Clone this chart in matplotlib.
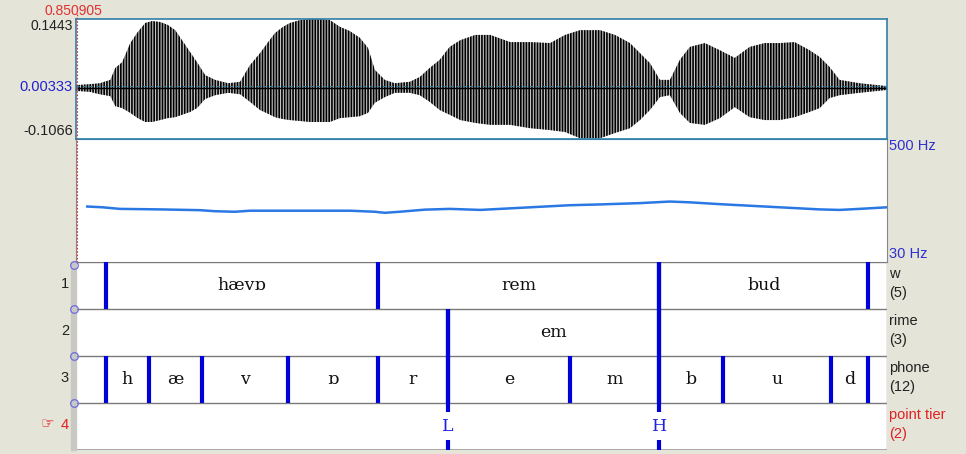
import matplotlib
matplotlib.use("Agg")
import matplotlib.pyplot as plt

# --- data ---
t_start = 0.851
t_end = 2.151
cursor_label = "0.850905"

# waveform envelope (seconds, upper / lower amplitude)
wave_t = [0.851, 0.873, 0.889, 0.906, 0.914, 0.925, 0.938, 0.950, 0.962, 0.973,
          0.986, 0.998, 1.010, 1.021, 1.034, 1.045, 1.058, 1.074, 1.095, 1.114,
          1.130, 1.146, 1.159, 1.170, 1.183, 1.194, 1.210, 1.226, 1.242, 1.258,
          1.274, 1.290, 1.306, 1.319, 1.330, 1.346, 1.362, 1.386, 1.402, 1.418,
          1.434, 1.450, 1.467, 1.491, 1.515, 1.547, 1.579, 1.611, 1.635, 1.659,
          1.691, 1.715, 1.739, 1.755, 1.771, 1.787, 1.803, 1.819, 1.835, 1.859,
          1.883, 1.907, 1.931, 1.955, 1.979, 2.003, 2.027, 2.043, 2.059, 2.075,
          2.107, 2.151]
wave_hi = [0.006, 0.008, 0.010, 0.017, 0.042, 0.054, 0.094, 0.117, 0.136, 0.140,
           0.138, 0.132, 0.121, 0.100, 0.075, 0.054, 0.027, 0.017, 0.010, 0.013,
           0.048, 0.073, 0.096, 0.115, 0.128, 0.136, 0.142, 0.144, 0.144, 0.142,
           0.128, 0.119, 0.105, 0.084, 0.038, 0.017, 0.010, 0.013, 0.023, 0.042,
           0.059, 0.086, 0.100, 0.111, 0.111, 0.096, 0.096, 0.094, 0.111, 0.121,
           0.121, 0.111, 0.094, 0.073, 0.052, 0.017, 0.017, 0.059, 0.086, 0.094,
           0.079, 0.063, 0.086, 0.094, 0.094, 0.096, 0.079, 0.065, 0.044, 0.017,
           0.010, 0.004]
wave_lo = [-0.006, -0.008, -0.013, -0.017, -0.038, -0.042, -0.052, -0.063, -0.071, -0.071,
           -0.067, -0.063, -0.061, -0.056, -0.050, -0.042, -0.023, -0.015, -0.010, -0.013,
           -0.029, -0.046, -0.054, -0.061, -0.065, -0.067, -0.069, -0.071, -0.071, -0.071,
           -0.063, -0.061, -0.059, -0.052, -0.031, -0.019, -0.010, -0.010, -0.015, -0.029,
           -0.046, -0.056, -0.067, -0.073, -0.077, -0.077, -0.084, -0.088, -0.092, -0.105,
           -0.105, -0.094, -0.084, -0.067, -0.046, -0.019, -0.015, -0.052, -0.073, -0.077,
           -0.063, -0.040, -0.061, -0.067, -0.067, -0.061, -0.050, -0.042, -0.021, -0.015,
           -0.010, -0.004]
wave_top, wave_mid, wave_bottom = 0.1443, 0.00333, -0.1066

# pitch contour (Hz)
pitch_t = [0.869, 0.894, 0.921, 0.986, 1.050, 1.074, 1.106, 1.130, 1.162, 1.290,
           1.330, 1.346, 1.370, 1.410, 1.450, 1.499, 1.547, 1.595, 1.643, 1.691,
           1.755, 1.803, 1.835, 1.883, 1.931, 1.995, 2.043, 2.075, 2.107, 2.151]
pitch_hz = [242, 239, 233, 231, 228, 224, 222, 226, 226, 226,
            222, 218, 222, 230, 233, 229, 235, 241, 247, 250,
            255, 261, 258, 251, 245, 237, 231, 229, 233, 239]
pitch_min, pitch_max = 30, 500

# interval tiers: boundaries and labels (labels sit between consecutive boundaries)
w_bounds = [0.899, 1.335, 1.786, 2.121]
w_labels = ["hævɒ", "rem", "bud"]
rime_bounds = [1.447, 1.786]
rime_labels = ["em"]
phone_bounds = [0.899, 0.968, 1.053, 1.191, 1.335, 1.447, 1.643, 1.786, 1.888,
                2.061, 2.121]
phone_labels = ["h", "æ", "v", "ɒ", "r", "e", "m", "b", "u", "d"]
point_times = [1.447, 1.786]
point_labels = ["L", "H"]

tier_names = ["w", "rime", "phone", "point tier"]
tier_counts = ["(5)", "(3)", "(12)", "(2)"]

# --- figure ---
W, H = 966, 454
bg = "#e4e4d8"
blue = "#0000d8"
fig = plt.figure(figsize=(W / 100, H / 100), dpi=100, facecolor=bg)


def box(x0, y0, x1, y1):
    return [x0 / W, 1 - y1 / H, (x1 - x0) / W, (y1 - y0) / H]


def fx(x):
    return x / W


def fy(y):
    return 1 - y / H


sans = "Liberation Sans"
serif = ["DejaVu Serif"]
small = 10.5

# waveform
plt.rcParams["hatch.linewidth"] = 1.2
ax_w = fig.add_axes(box(76, 19, 887, 139))
ax_w.fill_between(wave_t, wave_lo, wave_hi, facecolor="#c4c4c4",
                  edgecolor="black", hatch="|" * 6, linewidth=0)
ax_w.plot(wave_t, [0] * len(wave_t), color="black", lw=1.0)
ax_w.axhline(wave_mid, color="#2a7fa8", lw=0.8, ls=(0, (3, 3)))
ax_w.set_xlim(t_start, t_end)
ax_w.set_ylim(wave_bottom, wave_top)
ax_w.set_xticks([])
ax_w.set_yticks([])
for s in ax_w.spines.values():
    s.set_color("#2f7fa8")
    s.set_linewidth(1.2)

# pitch
ax_p = fig.add_axes(box(76, 139, 887, 262))
ax_p.plot(pitch_t, pitch_hz, color="#2a78e4", lw=1.8)
ax_p.set_xlim(t_start, t_end)
ax_p.set_ylim(pitch_min, pitch_max)
ax_p.set_xticks([])
ax_p.set_yticks([])
for s in ax_p.spines.values():
    s.set_color("#888888")
    s.set_linewidth(0.8)
ax_p.spines["top"].set_color("#2f7fa8")

# tiers
ax_t = fig.add_axes(box(76, 262, 887, 450))
ax_t.set_xlim(t_start, t_end)
ax_t.set_ylim(4, 0)
ax_t.set_xticks([])
ax_t.set_yticks([])
for s in ax_t.spines.values():
    s.set_visible(False)
for yy in [0, 1, 2, 3]:
    ax_t.axhline(yy, color="#7a7a7a", lw=1.0)
ax_t.axhline(4, color="#a0a0a0", lw=2.0)
ax_t.axvline(t_end, color="#9a9a9a", lw=1.0)

tiers = [(w_bounds, w_labels, 0), (rime_bounds, rime_labels, 1),
         (phone_bounds, phone_labels, 2)]
for bounds, labels, row in tiers:
    ax_t.vlines(bounds, row, row + 1, color=blue, lw=3)
    for i, lab in enumerate(labels):
        mid = (bounds[i] + bounds[i + 1]) / 2
        ax_t.text(mid, row + 0.5, lab, ha="center", va="center",
                  fontsize=12.5, family=serif, color="#111111")

for tp, lab in zip(point_times, point_labels):
    top = 1 if lab == "L" else 0
    ax_t.vlines(tp, top, 3.2, color=blue, lw=3)
    ax_t.vlines(tp, 3.78, 4.0, color=blue, lw=3)
    ax_t.text(tp, 3.5, lab, ha="center", va="center", fontsize=12.5,
              family=serif, color="#2020e0")

# shadow column left of tiers
fig.patches.append(plt.Rectangle((fx(71), fy(450)), fx(5), (450 - 262) / H,
                                 transform=fig.transFigure, color="#c9c9c3", zorder=0))

# cursor line
fig.add_artist(plt.Line2D([fx(76.5), fx(76.5)], [fy(14), fy(262)],
                          transform=fig.transFigure, color="#e03030", lw=0.8,
                          ls=(0, (1.5, 1.5))))

# left labels
fig.text(fx(73), fy(11), cursor_label, ha="center", va="center",
         fontsize=10, family=sans, color="#e03030")
fig.text(fx(73), fy(26.5), f"{wave_top:g}", ha="right", va="center",
         fontsize=10, family=sans, color="#222222")
fig.text(fx(73), fy(87), f"{wave_mid:g}", ha="right", va="center",
         fontsize=small, family=sans, color="#2020d0")
fig.text(fx(73), fy(131), f"{wave_bottom:g}", ha="right", va="center",
         fontsize=small, family=sans, color="#222222")

# right labels
fig.text(fx(889), fy(146), f"{pitch_max} Hz", ha="left", va="center",
         fontsize=small, family=sans, color="#3030d0")
fig.text(fx(889), fy(254), f"{pitch_min} Hz", ha="left", va="center",
         fontsize=small, family=sans, color="#3030d0")

tier_tops = [262, 309, 356, 403]
for i, (name, cnt) in enumerate(zip(tier_names, tier_counts)):
    col = "#e02020" if i == 3 else "#222222"
    y0 = tier_tops[i]
    fig.text(fx(889), fy(y0 + 12), name, ha="left", va="center",
             fontsize=small, family=sans, color=col)
    fig.text(fx(889), fy(y0 + 31), cnt, ha="left", va="center",
             fontsize=small, family=sans, color=col)
    # tier number
    fig.text(fx(69), fy(y0 + 22), str(i + 1), ha="right", va="center",
             fontsize=small, family=sans, color=col)
    # handle circles
    fig.add_artist(plt.Line2D([fx(74)], [fy(y0 + 3 if i == 0 else y0)],
                              transform=fig.transFigure, marker="o", ms=5.5,
                              mfc="none", mec="#6b6be0", mew=0.9, ls="none"))

fig.text(fx(47), fy(424), "☞", ha="center", va="center", fontsize=11,
         family="DejaVu Sans", color="#e02020")

fig.savefig("out.png", dpi=100, facecolor=bg)
